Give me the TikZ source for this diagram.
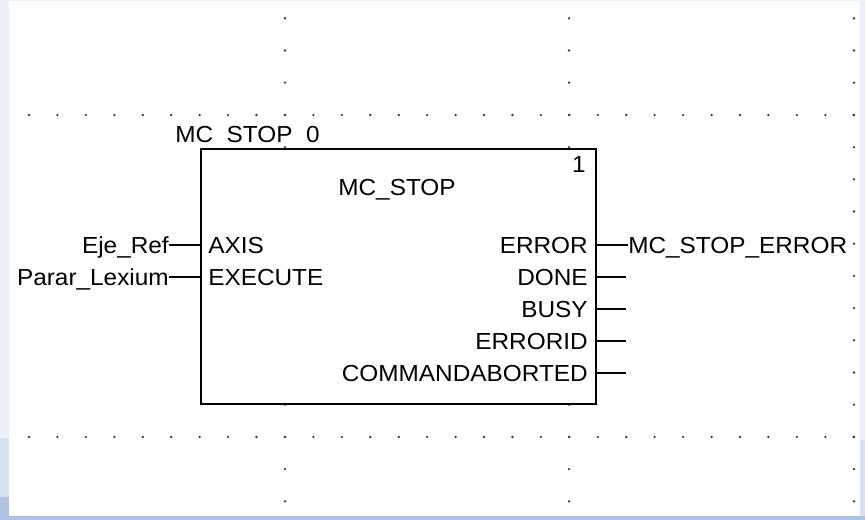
\documentclass[tikz,border=0pt]{standalone}
\usepackage{fontspec}
\newfontfamily\arialfont[FakeStretch=1.05]{Liberation Sans}
\definecolor{winpale}{RGB}{235,240,250}
\definecolor{winmid}{RGB}{214,225,241}
\definecolor{windeep}{RGB}{176,194,228}
\definecolor{griddot}{RGB}{60,60,60}
\usetikzlibrary{positioning, calc}

\begin{document}
\begin{tikzpicture}[
  x=0.75pt, y=-0.75pt,
  fblock/.style={draw=black, line width=1.5pt, fill=white,
                 minimum width=296.25pt, minimum height=191.25pt, inner sep=0pt},
  pin/.style={font=\arialfont\fontsize{17.4}{20}\selectfont, inner sep=0pt,
              text height=12.4pt, text depth=0pt},
  wire/.style={line width=1.4pt},
  gdot/.style={fill=griddot}
]
\useasboundingbox (0,0) rectangle (865,520);

% window background
\fill[winpale] (0,0) rectangle (865,520);
\fill[winmid] (0,438) rectangle (9,497);
\fill[windeep] (0,497) rectangle (9,520);
\fill[winmid] (860,440) rectangle (865,520);
\fill[windeep] (0,516) rectangle (865,520);
\fill[white] (9,1) rectangle (860,516);

% grid dots
\foreach \i in {0,...,29} {
  \fill[gdot] (29+28.44*\i,115) circle (1.3);
  \fill[gdot] (29+28.44*\i,437) circle (1.3);
}
\foreach \c in {285,569,854}
  \foreach \j in {0,...,15}
    \fill[gdot] (\c,18.3+32.2*\j) circle (1.3);

% function block
\node[pin, anchor=west] (inst) at (175,134) {MC\phantom{\_}STOP\phantom{\_}0};
\node[fblock, anchor=north west] (fb) at (200,148) {};
\node[pin, anchor=east] (num) at (586,164) {1};
\node[pin] (type) at (397,187) {MC\_STOP};

% inputs
\node[pin, anchor=west] (axis) at (208,245) {AXIS};
\node[pin, anchor=west] (exec) at (208,277) {EXECUTE};
\node[pin, anchor=east] (ejeref) at (169,245) {Eje\_Ref};
\node[pin, anchor=east] (parar) at (169,277) {Parar\_Lexium};

\draw[wire] (ejeref.east) -- (ejeref.east -| fb.west);
\draw[wire] (parar.east) -- (parar.east -| fb.west);

% outputs
\node[pin, anchor=east] (error) at (588,245) {ERROR};
\node[pin, anchor=east] (done) at (588,277) {DONE};
\node[pin, anchor=east] (busy) at (588,309) {BUSY};
\node[pin, anchor=east] (errid) at (588,341) {ERRORID};
\node[pin, anchor=east] (cmdab) at (588,373) {COMMANDABORTED};
\node[pin, anchor=west] (stoperr) at (628,245) {MC\_STOP\_ERROR};

\draw[wire] (error.east -| fb.east) -- (stoperr.west);
\foreach \o in {done,busy,errid,cmdab} {
  \coordinate (\o-end) at ($(\o.east -| fb.east)+(29,0)$);
  \draw[wire] (\o.east -| fb.east) -- (\o-end);
}
\end{tikzpicture}
\end{document}
